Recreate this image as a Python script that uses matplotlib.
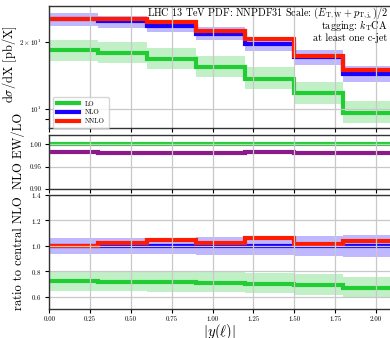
import numpy as np
import matplotlib
matplotlib.use('Agg')
import matplotlib.pyplot as plt
from matplotlib.ticker import FixedLocator, FixedFormatter

plt.rcParams['font.family'] = ['cmr10', 'DejaVu Serif']
plt.rcParams['mathtext.fontset'] = 'cm'
plt.rcParams['axes.formatter.use_mathtext'] = True

# bin edges in |y(l)|
edges = [0.0, 0.3, 0.6, 0.9, 1.2, 1.5, 1.8, 2.1]

# differential cross sections [pb]
lo = [18.4, 17.9, 16.9, 15.5, 13.7, 11.8, 9.6]
lo_up = [20.5, 20.0, 18.9, 17.4, 15.4, 13.3, 10.9]
lo_dn = [16.5, 16.1, 15.2, 13.9, 12.3, 10.5, 8.6]
nlo = [25.5, 24.9, 23.7, 21.9, 19.6, 17.1, 14.4]
nlo_up = [27.1, 26.4, 25.1, 23.4, 21.0, 18.4, 15.6]
nlo_dn = [23.8, 23.3, 22.2, 20.4, 18.2, 15.8, 13.2]
nnlo = [25.5, 25.5, 24.8, 22.4, 20.8, 17.4, 15.0]

# NLO EW / LO
ew_lo = [0.982, 0.980, 0.981, 0.981, 0.982, 0.980, 0.981]

c_lo = '#22cc33'
c_nlo = '#1a00ff'
c_nnlo = '#ff1a00'
c_ew = '#8b1a8b'

fig = plt.figure(figsize=(3.9, 3.38), dpi=100)
W, H = 390.0, 338.0
x0 = 49.3 / W
xw = 2.4 * 163.3 / W
ax1 = fig.add_axes([x0, 1 - 128 / H, xw, (128 - 6) / H])
ax2 = fig.add_axes([x0, 1 - 189 / H, xw, (189 - 135) / H])
ax3 = fig.add_axes([x0, 1 - 309 / H, xw, (309 - 195) / H])

lw = 3
ax1.stairs(lo_up, edges, baseline=lo_dn, fill=True, color=c_lo, alpha=0.28, lw=0)
ax1.stairs(nlo_up, edges, baseline=nlo_dn, fill=True, color=c_nlo, alpha=0.28, lw=0)
ax1.stairs(lo, edges, baseline=None, color=c_lo, lw=lw, label='LO')
ax1.stairs(nlo, edges, baseline=None, color=c_nlo, lw=lw, label='NLO')
ax1.stairs(nnlo, edges, baseline=None, color=c_nnlo, lw=lw, label='NNLO')
ax1.set_yscale('log')
ax1.set_ylim(8.2, 29.2)
ax1.yaxis.set_major_locator(FixedLocator([10]))
ax1.yaxis.set_major_formatter(FixedFormatter([r'$10^{1}$']))
ax1.yaxis.set_minor_locator(FixedLocator([9, 20]))
ax1.yaxis.set_minor_formatter(FixedFormatter(['', r'$2\times10^{1}$']))
ax1.set_ylabel(r'd$\sigma$/dX [pb/X]', fontsize=9)
ax1.yaxis.set_label_coords(-0.078, 0.52)
ax1.legend(loc='lower left', fontsize=5, handlelength=3.2, framealpha=0.8,
           borderpad=0.6, labelspacing=0.4, bbox_to_anchor=(0.0, -0.03))
ax1.grid(True, which='major', color='#c8c8c8', lw=0.9)

fig.text(388 / W, 1 - 13 / H, r'LHC 13 TeV PDF: NNPDF31 Scale: $(E_{\rm T,W}+p_{\rm T,j_c})/2$',
         ha='right', va='center', fontsize=7.3)
fig.text(387 / W, 1 - 25.5 / H, r'tagging: $k_{\rm T}$CA', ha='right', va='center', fontsize=7.3)
fig.text(387 / W, 1 - 38 / H, 'at least one c-jet', ha='right', va='center', fontsize=7.3)

ax2.stairs(np.ones(len(lo)), edges, baseline=None, color=c_lo, lw=lw)
ax2.stairs(ew_lo, edges, baseline=None, color=c_ew, lw=lw)
ax2.set_ylim(0.9, 1.021)
ax2.set_yticks([0.90, 0.95, 1.00])
ax2.set_yticklabels(['0.90', '0.95', '1.00'])
ax2.set_ylabel('NLO EW/LO', fontsize=9)
ax2.yaxis.set_label_coords(-0.062, 0.70)
ax2.grid(True, color='#c8c8c8', lw=0.9)

nlo_a = np.array(nlo)
ax3.stairs(np.array(lo_up) / nlo_a, edges, baseline=np.array(lo_dn) / nlo_a, fill=True,
           color=c_lo, alpha=0.28, lw=0)
ax3.stairs(np.array(nlo_up) / nlo_a, edges, baseline=np.array(nlo_dn) / nlo_a, fill=True,
           color=c_nlo, alpha=0.28, lw=0)
ax3.stairs(np.array(lo) / nlo_a, edges, baseline=None, color=c_lo, lw=lw)
ax3.stairs(nlo_a / nlo_a, edges, baseline=None, color=c_nlo, lw=lw)
ax3.stairs(np.array(nnlo) / nlo_a, edges, baseline=None, color=c_nnlo, lw=lw)
ax3.set_ylim(0.505, 1.4)
ax3.set_yticks([0.6, 0.8, 1.0, 1.2, 1.4])
ax3.set_ylabel('ratio to central NLO', fontsize=9)
ax3.yaxis.set_label_coords(-0.062, 0.49)
ax3.set_xlabel(r'$|y(\ell)|$', fontsize=10.5)
ax3.xaxis.set_label_coords(1.045 / 2.4, -0.11)
ax3.grid(True, color='#c8c8c8', lw=0.9)

xt = [0.0, 0.25, 0.5, 0.75, 1.0, 1.25, 1.5, 1.75, 2.0, 2.25]
for ax in (ax1, ax2, ax3):
    ax.set_xlim(0, 2.4)
    ax.set_xticks(xt)
    ax.tick_params(which='both', labelsize=5, direction='out', length=3, width=0.8, pad=2.5)
    for s in ax.spines.values():
        s.set_linewidth(1.0)
        s.set_color('#333333')
ax1.tick_params(labelbottom=False)
ax2.tick_params(labelbottom=False)
ax3.set_xticklabels(['%.2f' % v for v in xt])

fig.savefig('out.png', dpi=100)
